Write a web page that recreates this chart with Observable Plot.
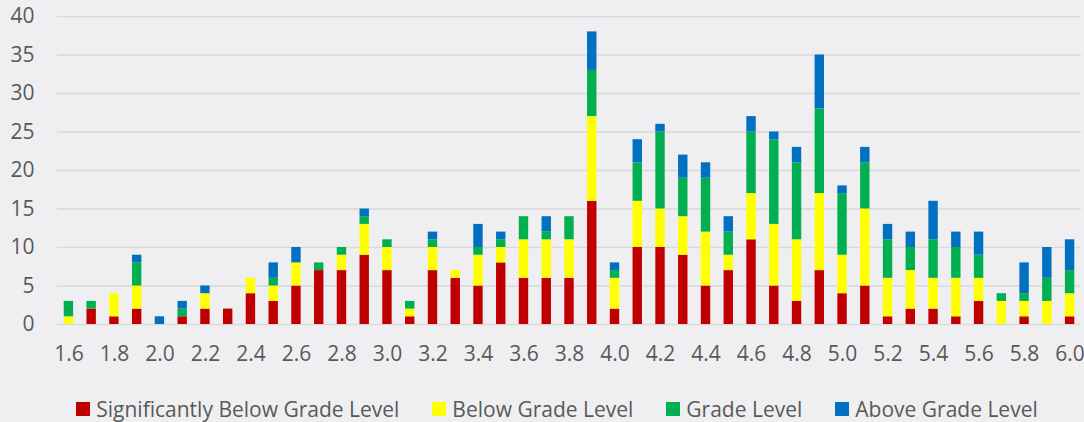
<!DOCTYPE html>
<html><head><meta charset="utf-8">
<script src="https://cdn.jsdelivr.net/npm/d3@7"></script>
<script src="https://cdn.jsdelivr.net/npm/@observablehq/plot@0.6"></script>
<style>
html,body{margin:0;padding:0;background:#efeff1;font-family:"Open Sans",sans-serif;}
#chart{height:380px}
#legend{display:flex;justify-content:center;gap:33px;padding-left:30px;height:42px;margin-top:8px;align-items:center;font-size:21px;color:#595959;font-family:"Open Sans",sans-serif;}
.item{display:flex;align-items:center;gap:6px;white-space:nowrap}
.sw{width:14px;height:14px;display:inline-block}
</style></head><body><div id="chart"></div><div id="legend"></div>
<script>
const categories = ["1.6","1.7","1.8","1.9","2.0","2.1","2.2","2.3","2.4","2.5","2.6","2.7","2.8","2.9","3.0","3.1","3.2","3.3","3.4","3.5","3.6","3.7","3.8","3.9","4.0","4.1","4.2","4.3","4.4","4.5","4.6","4.7","4.8","4.9","5.0","5.1","5.2","5.3","5.4","5.5","5.6","5.7","5.8","5.9","6.0"];
const seriesNames = ["Significantly Below Grade Level","Below Grade Level","Grade Level","Above Grade Level"];
const seriesColors = ["#C00000","#FFFF00","#00B050","#0070C0"];
const significantlyBelow = [0,2,1,2,0,1,2,2,4,3, 5,7,7,9,7,1,7,6,5,8, 6,6,6,16,2,10,10,9,5,7, 11,5,3,7,4,5,1,2,2,1, 3,0,1,0,1];
const belowGrade        = [1,0,3,3,0,0,2,0,2,2, 3,0,2,4,3,1,3,1,4,2, 5,5,5,11,4,6,5,5,7,2, 6,8,8,10,5,10,5,5,4,5, 3,3,2,3,3];
const gradeLevel        = [2,1,0,3,0,1,0,0,0,1, 0,1,1,1,1,1,1,0,1,1, 3,1,3,6,1,5,10,5,7,3, 8,11,10,11,8,6,5,3,5,4, 3,1,1,3,3];
const aboveGrade        = [0,0,0,1,1,1,1,0,0,2, 2,0,0,1,0,0,1,0,3,1, 0,2,0,5,1,3,1,3,2,2, 2,1,2,7,1,2,2,2,5,2, 3,0,4,4,4];
const yTicks = [0,5,10,15,20,25,30,35,40];
const xTickLabels = categories.filter((d,i)=>i%2===0);

const seriesValues = [significantlyBelow, belowGrade, gradeLevel, aboveGrade];
const data = [];
seriesNames.forEach((s,si)=>categories.forEach((c,ci)=>data.push({cat:c, series:s, value:seriesValues[si][ci]})));

const chart = Plot.plot({
  width:1084, height:380,
  marginLeft:57, marginRight:3, marginTop:16, marginBottom:56,
  style:{fontFamily:"'Open Sans', sans-serif", fontSize:"21px", color:"#595959", background:"transparent", overflow:"visible"},
  x:{type:"band", domain:categories, paddingInner:0.587, paddingOuter:0.295, ticks:xTickLabels, tickSize:0, tickPadding:22, label:null},
  y:{domain:[0,40], ticks:yTicks, tickSize:0, tickPadding:23, label:null},
  color:{domain:seriesNames, range:seriesColors},
  marks:[
    Plot.ruleY(yTicks,{stroke:"#d9d9db", strokeWidth:1.4}),
    Plot.barY(data, Plot.stackY({order:seriesNames}, {x:"cat", y:"value", fill:"series"}))
  ]
});
document.getElementById("chart").appendChild(chart);

const legend = document.getElementById("legend");
seriesNames.forEach((s,i)=>{
  const it = document.createElement("div"); it.className="item";
  const sw = document.createElement("span"); sw.className="sw"; sw.style.background=seriesColors[i];
  const tx = document.createElement("span"); tx.textContent=s;
  it.appendChild(sw); it.appendChild(tx); legend.appendChild(it);
});
</script></body></html>
